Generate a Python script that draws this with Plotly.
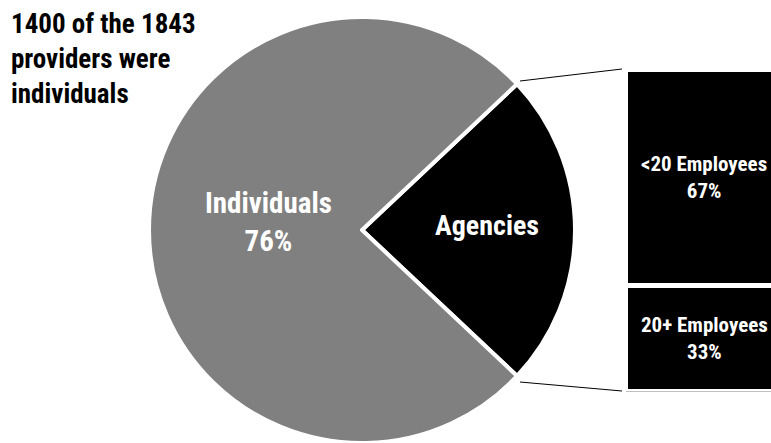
import plotly.graph_objects as go

# Provider counts
groups = ["Agencies", "Individuals"]
counts = [443, 1400]
group_colors = ["#000000", "#808080"]

# Agency size breakdown (percent of agencies), bottom segment first
agency_sizes = ["20+ Employees", "<20 Employees"]
agency_pct = [33, 67]

W, H = 771, 443
FONT = "Liberation Sans Narrow, Arial Narrow, Roboto Condensed, DejaVu Sans Condensed, sans-serif"

total = sum(counts)
shares = [c / total * 100 for c in counts]

# Pie geometry (pixels)
cx, cy, r = 362, 230, 213
half_angle = 360 * counts[0] / total / 2  # Agencies wedge is centred on 3 o'clock

fig = go.Figure()

fig.add_trace(go.Pie(
    labels=groups,
    values=counts,
    sort=False,
    direction="clockwise",
    rotation=90 - half_angle,
    marker=dict(colors=group_colors, line=dict(color="white", width=4)),
    textinfo="none",
    hoverinfo="label+percent",
    domain=dict(x=[(cx - r) / W, (cx + r) / W], y=[1 - (cy + r) / H, 1 - (cy - r) / H]),
    showlegend=False,
))

# Stacked bar for agency size
bar_left, bar_right = 625.5, 781.0
for name, val in zip(agency_sizes, agency_pct):
    fig.add_trace(go.Bar(
        x=[0], y=[val], name=name, width=1,
        marker=dict(color="#000000", line=dict(color="white", width=5)),
        showlegend=False, hoverinfo="name+y",
    ))

bar_top, bar_bot = 69.5, 391.5
ydom = [1 - bar_bot / H, 1 - bar_top / H]
fig.update_layout(
    width=W, height=H,
    margin=dict(l=0, r=0, t=0, b=0),
    paper_bgcolor="white", plot_bgcolor="white",
    barmode="stack",
    xaxis=dict(domain=[bar_left / W, 1], range=[-0.5, -0.5 + (W - bar_left) / (bar_right - bar_left)],
               visible=False, fixedrange=True),
    yaxis=dict(domain=ydom, range=[0, sum(agency_pct)], visible=False, fixedrange=True),
    font=dict(family=FONT, color="black"),
)

annotations = []
# Title text
annotations.append(dict(
    text="<b>1400 of the 1843<br>providers were<br>individuals</b>",
    xref="paper", yref="paper", x=9 / W, y=1 - 6 / H,
    xanchor="left", yanchor="top", align="left", showarrow=False,
    font=dict(size=27, color="black", family=FONT),
))
# Pie labels
annotations.append(dict(
    text=f"<b>{groups[1]}<br>{shares[1]:.0f}%</b>",
    xref="paper", yref="paper", x=268 / W, y=1 - 222 / H,
    xanchor="center", yanchor="middle",
    showarrow=False, font=dict(size=29, color="white", family=FONT),
))
annotations.append(dict(
    text=f"<b>{groups[0]}</b>",
    xref="paper", yref="paper", x=487 / W, y=1 - 226 / H,
    xanchor="center", yanchor="middle",
    showarrow=False, font=dict(size=28, color="white", family=FONT),
))
# Bar labels, centred on each segment
cum = 0
bar_center = 704
for name, val in zip(agency_sizes, agency_pct):
    frac = (cum + val / 2) / sum(agency_pct)
    annotations.append(dict(
        text=f"<b>{name}<br>{val}%</b>",
        xref="paper", yref="paper", x=bar_center / W,
        y=ydom[0] + frac * (ydom[1] - ydom[0]),
        xanchor="center", yanchor="middle",
        showarrow=False, font=dict(size=21, color="white", family=FONT),
    ))
    cum += val
fig.update_layout(annotations=annotations)

# Connector lines from the Agencies wedge to the bar
shapes = [
    dict(type="line", xref="paper", yref="paper",
         x0=520 / W, y0=1 - 81 / H, x1=622 / W, y1=1 - 69 / H,
         line=dict(color="black", width=1)),
    dict(type="line", xref="paper", yref="paper",
         x0=520 / W, y0=1 - 382 / H, x1=622 / W, y1=1 - 391 / H,
         line=dict(color="black", width=1)),
]
fig.update_layout(shapes=shapes)

fig.write_html("out.html")
